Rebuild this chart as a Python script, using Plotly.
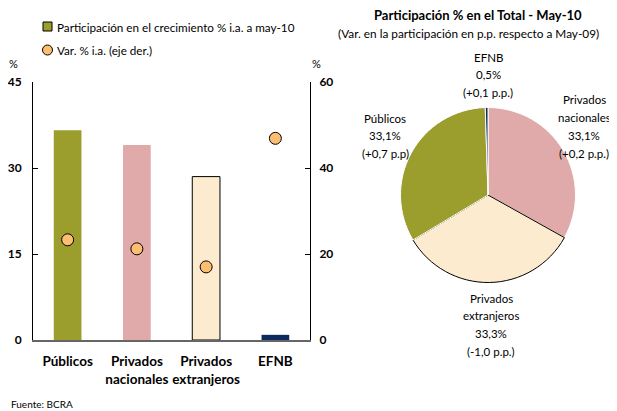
import plotly.graph_objects as go

# ---------------- data ----------------
categories = ["Públicos", "Privados nacionales", "Privados extranjeros", "EFNB"]
cat_ticktext = ["Públicos", "Privados<br>nacionales", "Privados<br>extranjeros", "EFNB"]
part_crec = [36.6, 34.0, 28.5, 0.9]          # left axis, %
var_ia = [23.3, 21.2, 17.0, 46.9]            # right axis, %
bar_colors = ["#9B9D2D", "#E0AAAA", "#FDEBD0", "#0D2A5E"]

pie_labels = ["Privados nacionales", "Privados extranjeros", "Públicos", "EFNB"]
pie_label_lines = [["Privados", "nacionales"], ["Privados", "extranjeros"], ["Públicos"], ["EFNB"]]
pie_share = [33.1, 33.3, 33.1, 0.5]
pie_change = ["+0,2 p.p.", "-1,0 p.p.", "+0,7 p.p", "+0,1 p.p."]
pie_colors = ["#E0AAAA", "#FDEBD0", "#9B9D2D", "#0D2A5E"]

left_ticks = [0, 15, 30, 45]
right_ticks = [0, 20, 40, 60]

# page body has an 8px margin, so the figure is drawn 8px in from the top-left
OFF = 8
W, H = 617 - OFF, 411 - OFF
FONT = "Lato"


def px(x):
    return (x - OFF) / W


def py(y):
    return 1 - (y - OFF) / H


def note(text, x, y, size, xanchor="center", yanchor="middle"):
    return dict(text=text, x=px(x), y=py(y), xref="paper", yref="paper",
                xanchor=xanchor, yanchor=yanchor, showarrow=False,
                font=dict(size=size, color="black", family=FONT))


fig = go.Figure()

fig.add_trace(go.Bar(
    x=categories, y=part_crec, width=0.4,
    marker=dict(color=bar_colors,
                line=dict(color=["rgba(0,0,0,0)", "rgba(0,0,0,0)", "black", "rgba(0,0,0,0)"], width=1)),
    name="Participación en el crecimiento % i.a. a may-10",
    showlegend=False, yaxis="y", xaxis="x",
))
fig.add_trace(go.Scatter(
    x=categories, y=var_ia, mode="markers",
    marker=dict(color="#FDBE72", size=12, line=dict(color="black", width=1)),
    name="Var. % i.a. (eje der.)", showlegend=False, yaxis="y2", xaxis="x",
))

# pie
fig.add_trace(go.Pie(
    labels=pie_labels, values=pie_share, sort=False, direction="clockwise", rotation=0,
    marker=dict(colors=pie_colors, line=dict(color=["white", "black", "white", "white"], width=1)),
    textinfo="none", hoverinfo="label+percent", showlegend=False,
    domain=dict(x=[px(400.5), px(575.5)], y=[py(282.5), py(107.5)]),
))

ann = []
shapes = []

# custom legend (left top)
shapes.append(dict(type="rect", xref="paper", yref="paper",
                   x0=px(43), x1=px(52), y0=py(31), y1=py(22),
                   fillcolor=bar_colors[0], line=dict(color="black", width=1)))
shapes.append(dict(type="circle", xref="paper", yref="paper",
                   x0=px(42.5), x1=px(52.5), y0=py(55), y1=py(45),
                   fillcolor="#FDBE72", line=dict(color="black", width=1)))
ann.append(note("Participación en el crecimiento % i.a. a may-10", 55, 27, 11.7, xanchor="left"))
ann.append(note("Var. % i.a. (eje der.)", 55, 50, 11.7, xanchor="left"))

# % unit labels
ann.append(note("%", 13, 63, 11))
ann.append(note("%", 316, 63, 11))

# pie titles
ann.append(note("<b>Participación % en el Total - May-10</b>", 478, 15, 13))
ann.append(note("(Var. en la participación en p.p. respecto a May-09)", 468, 33, 11.8))

# pie labels: anchor centre x and first-line y for each slice
label_pos = {"Privados nacionales": (584, 100), "Privados extranjeros": (491, 298),
             "Públicos": (385, 118), "EFNB": (488, 57)}
LINE = 17.8
for name, lines, share, chg in zip(pie_labels, pie_label_lines, pie_share, pie_change):
    cx, y0 = label_pos[name]
    all_lines = lines + [f"{share:.1f}".replace(".", ",") + "%", f"({chg})"]
    for i, t in enumerate(all_lines):
        ann.append(note(t, cx, y0 + i * LINE, 11.5))

# source
ann.append(note("Fuente: BCRA", 8.5, 404, 10, xanchor="left"))

fig.update_layout(
    width=W, height=H,
    margin=dict(l=0, r=0, t=0, b=0, autoexpand=False),
    paper_bgcolor="white", plot_bgcolor="white",
    font=dict(family=FONT, color="black", size=11),
    xaxis=dict(domain=[px(33), px(310)], tickmode="array", tickvals=categories, ticktext=cat_ticktext,
               tickfont=dict(size=13.5, color="black", family=FONT, weight="bold"),
               showline=True, linecolor="#666666", linewidth=1.5, ticks="", showgrid=False,
               automargin=False, fixedrange=True, ticklabelstandoff=8),
    yaxis=dict(domain=[py(340), py(82)], range=[0, 45], tickvals=left_ticks,
               tickfont=dict(size=12, weight="bold"), showline=True, linecolor="black", linewidth=1,
               ticks="inside", ticklen=5, tickcolor="black", showgrid=False, zeroline=False,
               automargin=False, ticklabelstandoff=8),
    yaxis2=dict(overlaying="y", side="right", range=[0, 60], tickvals=right_ticks,
                tickfont=dict(size=12, weight="bold"), showline=True, linecolor="black", linewidth=1,
                ticks="inside", ticklen=5, tickcolor="black", showgrid=False, zeroline=False,
                automargin=False, ticklabelstandoff=6),
    annotations=ann,
    shapes=shapes,
)

fig.write_html("out.html")
